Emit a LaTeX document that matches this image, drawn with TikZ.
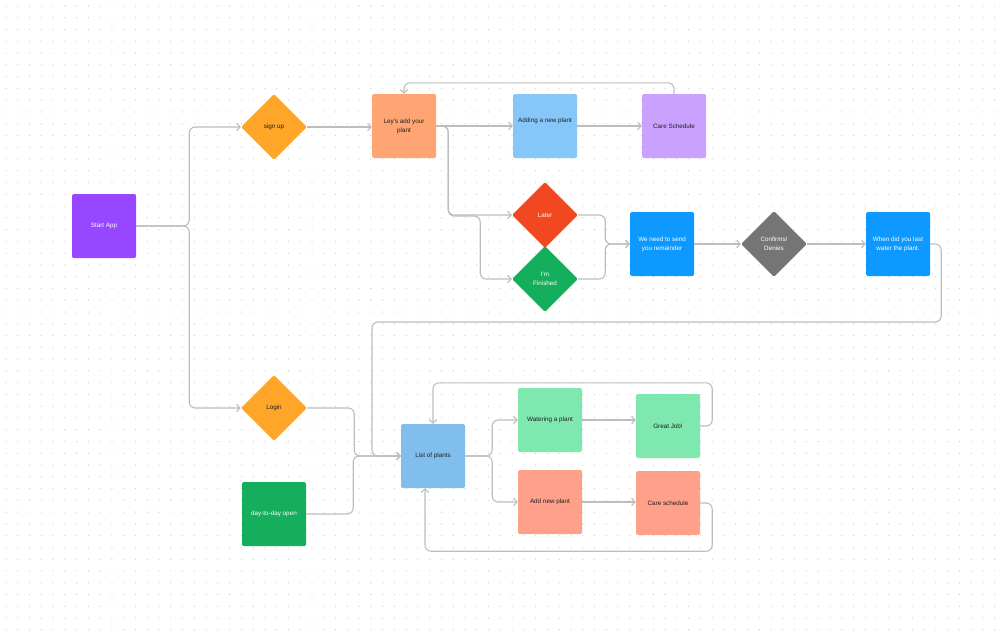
\documentclass[tikz,border=0pt]{standalone}
\usepackage{fontspec}
\setmainfont{Liberation Sans}
\usepackage{tikz}
\usepackage{xcolor}
\usetikzlibrary{shapes.geometric,arrows.meta}
\definecolor{figpurple}{RGB}{151,71,255}
\definecolor{figorange}{RGB}{255,166,41}
\definecolor{figpeach}{RGB}{255,165,115}
\definecolor{figsky}{RGB}{133,199,248}
\definecolor{figlilac}{RGB}{203,161,255}
\definecolor{figred}{RGB}{242,72,34}
\definecolor{figgreen}{RGB}{20,174,92}
\definecolor{figblue}{RGB}{13,153,255}
\definecolor{figgrey}{RGB}{117,117,117}
\definecolor{figlist}{RGB}{128,191,237}
\definecolor{figmint}{RGB}{126,232,174}
\definecolor{figsalmon}{RGB}{255,160,139}
\definecolor{figink}{RGB}{30,30,30}
\definecolor{figwire}{RGB}{189,189,189}
\definecolor{figdot}{RGB}{206,206,206}

\begin{document}
\begin{tikzpicture}[x=1pt,y=-1pt,
    every node/.style={font=\fontsize{6.3}{9}\selectfont,align=center,text=figink},
    proc/.style={rectangle,rounded corners=1.5pt,minimum size=64pt,inner sep=0pt},
    decide/.style={diamond,rounded corners=1.5pt,minimum size=66pt,inner sep=0pt},
    light/.style={text=white},
    link/.style={draw=figwire,line width=1.1pt,rounded corners=6pt,
      -{Straight Barb[length=3.5pt,width=7.5pt]}}]
        \useasboundingbox (0,0) rectangle (1000,632);
        % dotted canvas
        \foreach \i in {0,...,84}
          \foreach \j in {0,...,53}
            \fill[figdot] (6+11.77*\i,6+11.77*\j) circle (0.65pt);

        % top branch
        \node[proc,fill=figpurple,light] (start) at (104,226) {Start App};
        \node[decide,fill=figorange] (signup) at (274,127) {sign up};
        \node[proc,fill=figpeach] (leys) at (404,126) {Ley's add your\\plant};
        \node[proc,fill=figsky] (adding) at (545,126) {Adding a new plant\\[2pt]\mbox{}};
        \node[proc,fill=figlilac] (caresch) at (674,126) {Care Schedule};
        \node[decide,fill=figred,light] (later) at (545,215) {Later};
        \node[decide,fill=figgreen,light] (finished) at (545,279) {I'm\\Finished};
        \node[proc,fill=figblue,light] (remind) at (662,244) {We need to send\\you remainder};
        \node[decide,fill=figgrey,light] (confirm) at (774,244) {Confirms/\\Denies};
        \node[proc,fill=figblue,light] (lastwater) at (898,244) {When did you last\\water the plant.};
        \coordinate (back) at (372,322);

        % bottom branch
        \node[decide,fill=figorange] (login) at (274,408) {Login};
        \node[proc,fill=figgreen,light] (daily) at (274,514) {day-to-day open};
        \node[proc,fill=figlist] (list) at (433,456) {List of plants};
        \node[proc,fill=figmint] (watering) at (550,420) {Watering a plant};
        \node[proc,fill=figmint] (greatjob) at (668,426) {Great Job!};
        \node[proc,fill=figsalmon] (addnew) at (550,502) {Add new plant};
        \node[proc,fill=figsalmon] (care) at (668,503) {Care schedule};

        \draw[link] (start.east) -- ++(53,0) |- (signup.west);
        \draw[link] (start.east) -- ++(53,0) |- (login.west);
        \draw[link] (signup.east) -- (leys.west |- signup.east);
        \draw[link] (leys.east) -- (adding.west);
        \draw[link] (adding.east) -- (caresch.west);
        \draw[link] (caresch.north) -- ++(0,-11) -| (leys.north);
        \draw[link] (leys.east) -- ++(12,0) |- (later.west);
        \draw[link] (leys.east) -- ++(12,0) |- ++(32,90) |- (finished.west);
        \draw[link] (later.east) -- ++(27,0) |- (remind.west);
        \draw[link] (finished.east) -- ++(27,0) |- (remind.west);
        \draw[link] (remind.east) -- (confirm.west);
        \draw[link] (confirm.east) -- (lastwater.west);
        \draw[link] (lastwater.east) -- ++(11,0) |- (back) |- (list.west);
        \draw[link] (login.east) -- ++(47,0) |- (list.west);
        \draw[link] (daily.east) -- ++(47,0) |- (list.west);
        \draw[link] (list.east) -- ++(27,0) |- (watering.west);
        \draw[link] (list.east) -- ++(27,0) |- (addnew.west);
        \draw[link] (watering.east) -- (watering.east -| greatjob.west);
        \draw[link] (addnew.east) -- (addnew.east -| care.west);
        \draw[link] (greatjob.east) -- ++(12,0) |- ([yshift=41pt]list.north) -- (list.north);
        \draw[link] (care.east) -- ++(12,0) |- ([xshift=-8pt,yshift=-63pt]list.south) -- ([xshift=-8pt]list.south);
      \end{tikzpicture}
\end{document}
